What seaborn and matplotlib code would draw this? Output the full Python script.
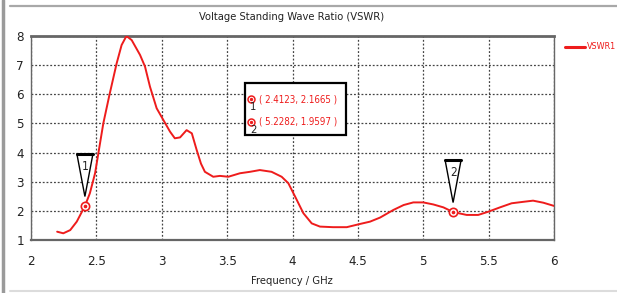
import matplotlib
matplotlib.use("Agg")
import numpy as np
import pandas as pd
import seaborn as sns
import matplotlib.pyplot as plt
from matplotlib import transforms
from matplotlib.patches import Polygon, Rectangle
from matplotlib.lines import Line2D

# ---- data ----
freq = [2.20, 2.247, 2.30, 2.35, 2.4123, 2.45, 2.49, 2.515, 2.553, 2.60, 2.655, 2.693,
        2.73, 2.77, 2.834, 2.872, 2.91, 2.961, 3.012, 3.063, 3.10, 3.14, 3.19, 3.23,
        3.267, 3.30, 3.33, 3.394, 3.445, 3.509, 3.598, 3.675, 3.75, 3.84, 3.917, 3.968,
        4.02, 4.083, 4.147, 4.21, 4.31, 4.415, 4.516, 4.593, 4.67, 4.771, 4.85, 4.924,
        5.0, 5.077, 5.154, 5.2282, 5.332, 5.42, 5.497, 5.587, 5.676, 5.765, 5.84, 5.918,
        6.0]
vswr = [1.285, 1.23, 1.34, 1.63, 2.1665, 2.60, 3.29, 3.97, 5.0, 5.98, 7.06, 7.69,
        8.0, 7.86, 7.35, 6.95, 6.26, 5.52, 5.12, 4.72, 4.49, 4.52, 4.77, 4.66,
        4.09, 3.62, 3.34, 3.17, 3.20, 3.17, 3.29, 3.34, 3.40, 3.34, 3.17, 2.95,
        2.49, 1.92, 1.57, 1.46, 1.44, 1.44, 1.55, 1.63, 1.77, 2.03, 2.20, 2.29,
        2.29, 2.22, 2.12, 1.9597, 1.86, 1.86, 1.97, 2.12, 2.26, 2.31, 2.35, 2.28,
        2.17]
marker_ids = ["1", "2"]
marker_freq = [2.4123, 5.2282]
marker_vswr = [2.1665, 1.9597]
xticks = [2, 2.5, 3, 3.5, 4, 4.5, 5, 5.5, 6]
xtick_labels = ["2", "2.5", "3", "3.5", "4", "4.5", "5", "5.5", "6"]
yticks = [1, 2, 3, 4, 5, 6, 7, 8]
ytick_labels = ["1", "2", "3", "4", "5", "6", "7", "8"]
series_name = "VSWR1"
title = "Voltage Standing Wave Ratio (VSWR)"
xlabel = "Frequency / GHz"

RED = "#ee1c1c"
W, H = 617, 293

sns.set_style("white")
plt.rcParams["font.family"] = ["DejaVu Sans"]
plt.rcParams["font.stretch"] = "condensed"

fig = plt.figure(figsize=(W / 100, H / 100), dpi=100)
fig.patch.set_facecolor("white")
ax = fig.add_axes([31 / W, (H - 240) / H, 523 / W, 204 / H])

df = pd.DataFrame({"Frequency": freq, series_name: vswr})
sns.lineplot(data=df, x="Frequency", y=series_name, ax=ax, color=RED,
             linewidth=1.4, legend=False, zorder=3)

ax.set_xlim(2, 6)
ax.set_ylim(1, 8)
ax.set_xticks(xticks)
ax.set_xticklabels(xtick_labels)
ax.set_yticks(yticks)
ax.set_yticklabels(ytick_labels)
ax.set_xlabel("")
ax.set_ylabel("")
ax.grid(True, linestyle=(0, (1.5, 1.5)), color="#444444", linewidth=0.9)
ax.tick_params(axis="both", direction="out", length=3, width=1, color="#555555",
               labelsize=9.5, labelcolor="#222222")
ax.tick_params(axis="x", pad=8)
ax.tick_params(axis="y", pad=2)
for s in ax.spines.values():
    s.set_visible(True)
    s.set_color("#666666")
    s.set_linewidth(1.0)
ax.spines["top"].set_linewidth(2.0)
ax.spines["bottom"].set_linewidth(1.6)

# markers on the curve
ax.plot(marker_freq, marker_vswr, linestyle="none", marker="o", markersize=6,
        markerfacecolor="white", markeredgecolor=RED, markeredgewidth=1.2, zorder=5)
ax.plot(marker_freq, marker_vswr, linestyle="none", marker="o", markersize=1.6,
        markerfacecolor=RED, markeredgecolor=RED, zorder=6)

# triangle flags above markers
for mid, mx, my in zip(marker_ids, marker_freq, marker_vswr):
    tr = fig.dpi_scale_trans + transforms.ScaledTranslation(mx, my, ax.transData)
    tri = Polygon([(-0.08, 0.52), (0.08, 0.52), (0.0, 0.095)], closed=True,
                  facecolor="white", edgecolor="black", linewidth=1.0,
                  transform=tr, zorder=7, clip_on=False)
    ax.add_patch(tri)
    ax.add_line(Line2D([-0.08, 0.08], [0.52, 0.52], color="black", linewidth=2.2,
                       transform=tr, zorder=8, clip_on=False))
    ax.text(0, 0.40, mid, transform=tr, ha="center", va="center", fontsize=8.5,
            color="#222222", zorder=9)

# marker readout box
bx0, bx1 = (245 - 31) / 523, (346 - 31) / 523
by0, by1 = (240 - 135) / 204, (240 - 83) / 204
ax.add_patch(Rectangle((bx0, by0), bx1 - bx0, by1 - by0, transform=ax.transAxes,
                       facecolor="white", edgecolor="black", linewidth=1.6, zorder=10))
row_y = [(240 - 99) / 204, (240 - 122) / 204]
for ry, mid, mx, my in zip(row_y, marker_ids, marker_freq, marker_vswr):
    ax.plot([(251 - 31) / 523], [ry], transform=ax.transAxes, marker="o",
            markersize=5, markerfacecolor="white", markeredgecolor=RED,
            markeredgewidth=1.1, zorder=11, clip_on=False)
    ax.plot([(251 - 31) / 523], [ry], transform=ax.transAxes, marker="o",
            markersize=1.4, color=RED, zorder=12, clip_on=False)
    ax.text((253 - 31) / 523, ry - 0.04, mid, transform=ax.transAxes, ha="center",
            va="center", fontsize=8, color="#222222", zorder=12)
    ax.text((259 - 31) / 523, ry, f"( {mx:.4f}, {my:.4f} )", transform=ax.transAxes,
            ha="left", va="center", fontsize=7, color=RED, zorder=12)

# title, x label, legend
fig.text(292 / W, 1 - 17 / H, title, ha="center", va="center", fontsize=8,
         color="#222222")
fig.text(292 / W, 1 - 281 / H, xlabel, ha="center", va="center", fontsize=8,
         color="#222222")
fig.add_artist(Line2D([565 / W, 585 / W], [1 - 47 / H, 1 - 47 / H], color=RED,
                      linewidth=2.2))
fig.text(587 / W, 1 - 47 / H, series_name, ha="left", va="center", fontsize=6.5,
         color=RED)

# window frame decorations
fig.add_artist(Line2D([10 / W, 1], [1 - 6 / H, 1 - 6 / H], color="#a8a8a8", linewidth=1.6))
fig.add_artist(Line2D([3 / W, 3 / W], [0, 1], color="#9a9a9a", linewidth=2.5))
fig.add_artist(Line2D([10 / W, 1], [1 - 291 / H, 1 - 291 / H], color="#dcdcdc", linewidth=1.5))

fig.savefig("out.png", dpi=100, facecolor="white")
